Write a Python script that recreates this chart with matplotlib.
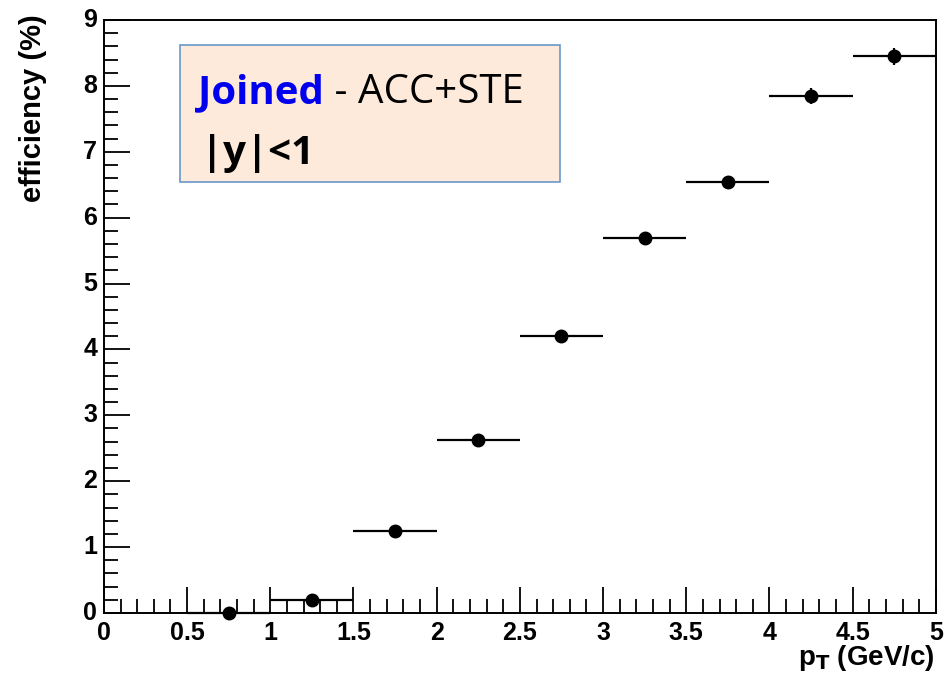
import matplotlib.pyplot as plt
from matplotlib.patches import Rectangle
from matplotlib.ticker import MultipleLocator

# efficiency vs pT, bins of 0.5 GeV/c
pt_centers = [0.75, 1.25, 1.75, 2.25, 2.75, 3.25, 3.75, 4.25, 4.75]
pt_halfwidth = [0.25, 0.25, 0.25, 0.25, 0.25, 0.25, 0.25, 0.25, 0.25]
efficiency = [0.005, 0.19, 1.24, 2.63, 4.20, 5.69, 6.54, 7.85, 8.45]
eff_err = [0.02, 0.05, 0.06, 0.06, 0.07, 0.08, 0.10, 0.12, 0.13]

fig = plt.figure(figsize=(9.53, 6.81), dpi=100)
ax = fig.add_axes([0.109, 0.0999, 0.873, 0.8707])

ax.errorbar(pt_centers, efficiency, xerr=pt_halfwidth, yerr=eff_err,
            fmt='o', color='black', markersize=9, elinewidth=1.6,
            capsize=0, clip_on=False, zorder=3)

ax.set_xlim(0, 5)
ax.set_ylim(0, 9)

# ROOT style ticks: inside, only on bottom/left
ax.xaxis.set_major_locator(MultipleLocator(0.5))
ax.xaxis.set_minor_locator(MultipleLocator(0.1))
ax.yaxis.set_major_locator(MultipleLocator(1))
ax.yaxis.set_minor_locator(MultipleLocator(0.2))
ax.tick_params(which='both', direction='in', top=False, right=False,
               width=1.3, color='black')
ax.tick_params(which='major', length=19, pad=6)
ax.tick_params(which='minor', length=10)
ax.set_xticklabels([])
ax.set_yticklabels([])

tick_font = dict(family='Liberation Sans', weight='bold', size=18)
for v in [0, 0.5, 1, 1.5, 2, 2.5, 3, 3.5, 4, 4.5, 5]:
    lab = ('%g' % v)
    ax.text(v, -0.12, lab, ha='center', va='top', **tick_font)
for v in range(0, 10):
    ax.text(-0.04, v, str(v), ha='right', va='center', **tick_font)

for s in ax.spines.values():
    s.set_linewidth(1.4)

fig.text(0.035, 0.979, 'efficiency (%)', rotation=90, ha='center', va='top',
         family='Liberation Sans', weight='bold', size=21)
fig.text(0.981, 0.012, r'p$_\mathbf{T}$ (GeV/c)', ha='right', va='bottom',
         family='Liberation Sans', weight='bold', size=20)

# text box
ax.add_patch(Rectangle((0.091, 0.727), 0.457, 0.231, transform=ax.transAxes,
                       facecolor='#FDEADA', edgecolor='#6A98C8', linewidth=1.2,
                       zorder=4))
box_font = dict(family='Open Sans', size=29)
t1 = ax.text(0.113, 0.878, 'Joined', color='#0000EE', weight='bold',
             transform=ax.transAxes, va='center', ha='left', zorder=5, **box_font)
fig.canvas.draw()
bb = t1.get_window_extent()
x_end = ax.transAxes.inverted().transform((bb.x1, bb.y0))[0]
ax.text(x_end, 0.878, ' - ACC+STE', color='black', transform=ax.transAxes,
        va='center', ha='left', zorder=5, **box_font)
ax.text(0.117, 0.775, '|y|<1', color='black', weight='bold',
        transform=ax.transAxes, va='center', ha='left', zorder=5, **box_font)

fig.savefig('out.png', dpi=100)
